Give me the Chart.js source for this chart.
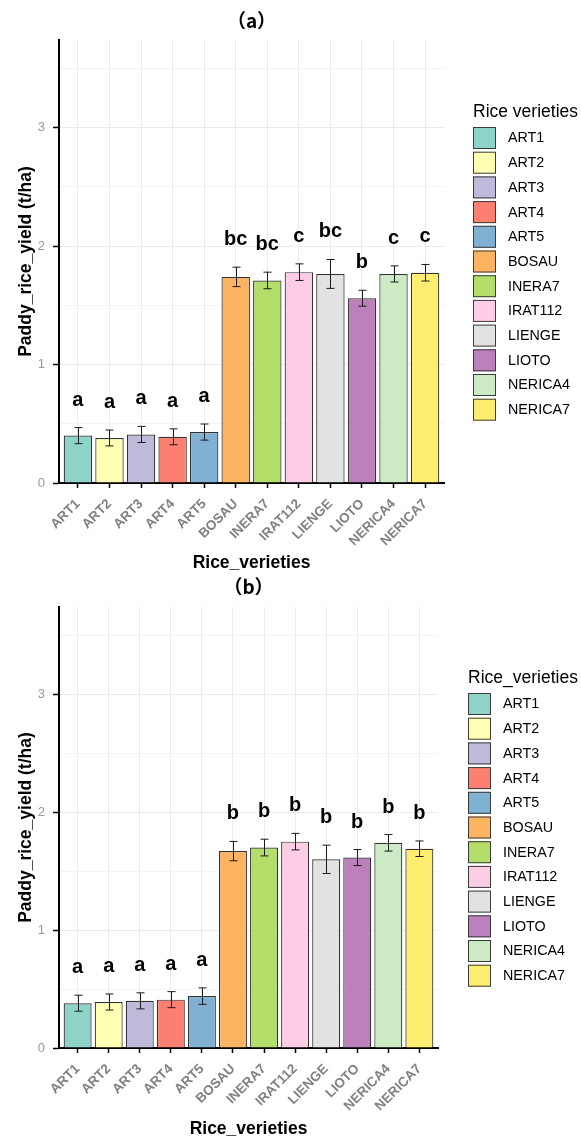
<!DOCTYPE html>
<html>
<head>
<meta charset="utf-8">
<script src="https://cdn.jsdelivr.net/npm/chart.js@4.4.1/dist/chart.umd.min.js"></script>
<style>
  html, body { margin: 0; padding: 0; background: #ffffff; }
  #wrap { position: relative; width: 581px; height: 1137px; }
  canvas { position: absolute; left: 0; }
</style>
</head>
<body>
<div id="wrap">
  <canvas id="cA" width="581" height="570" style="top:0px"></canvas>
  <canvas id="cB" width="581" height="567" style="top:570px"></canvas>
</div>
<script>
// ---------- data ----------
const categories = ["ART1","ART2","ART3","ART4","ART5","BOSAU","INERA7","IRAT112","LIENGE","LIOTO","NERICA4","NERICA7"];
const meanA = [0.40, 0.38, 0.41, 0.39, 0.43, 1.74, 1.71, 1.78, 1.765, 1.56, 1.765, 1.775];
const seA   = [0.068, 0.067, 0.068, 0.067, 0.068, 0.082, 0.070, 0.070, 0.122, 0.067, 0.068, 0.070];
const lettersA = ["a","a","a","a","a","bc","bc","c","bc","b","c","c"];
const meanB = [0.38, 0.39, 0.40, 0.41, 0.44, 1.67, 1.70, 1.75, 1.60, 1.615, 1.74, 1.69];
const seB   = [0.068, 0.068, 0.068, 0.068, 0.070, 0.082, 0.071, 0.070, 0.120, 0.068, 0.070, 0.066];
const lettersB = ["a","a","a","a","a","b","b","b","b","b","b","b"];
const yTicks = [0, 0.5, 1, 1.5, 2, 2.5, 3, 3.5];
const yMax = 3.74;
const palette = ["#8DD3C7","#FFFFB3","#BEBADA","#FB8072","#80B1D3","#FDB462","#B3DE69","#FCCDE5","#E2E2E2","#BC80BD","#CCEBC5","#FFED6F"];

const FONT = "'Liberation Sans', Arial, sans-serif";

function makeChart(canvasId, means, ses, letters, cfg) {
  const annot = {
    id: 'annot_' + canvasId,
    afterDatasetsDraw(chart) {
      const ctx = chart.ctx;
      const meta = chart.getDatasetMeta(0);
      const ys = chart.scales.y;
      ctx.save();
      // error bars
      ctx.strokeStyle = '#1a1a1a';
      ctx.lineWidth = 1;
      meta.data.forEach((bar, i) => {
        const x = Math.round(bar.x) + 0.5;
        const yT = ys.getPixelForValue(means[i] + ses[i]);
        const yB = ys.getPixelForValue(means[i] - ses[i]);
        ctx.beginPath();
        ctx.moveTo(x, yT); ctx.lineTo(x, yB);
        ctx.moveTo(x - 4, yT); ctx.lineTo(x + 4, yT);
        ctx.moveTo(x - 4, yB); ctx.lineTo(x + 4, yB);
        ctx.stroke();
      });
      // letters
      ctx.fillStyle = '#000000';
      ctx.font = "bold 20px " + FONT;
      ctx.textAlign = 'center';
      ctx.textBaseline = 'alphabetic';
      meta.data.forEach((bar, i) => {
        const yT = ys.getPixelForValue(means[i] + ses[i]);
        ctx.fillText(letters[i], bar.x, yT - 22);
      });
      ctx.restore();
    },
    afterDraw(chart) {
      const ctx = chart.ctx;
      const area = chart.chartArea;
      const cx = (area.left + area.right) / 2;
      ctx.save();
      // panel title
      ctx.fillStyle = '#000';
      ctx.font = "bold 19px 'Noto Sans CJK SC', " + FONT;
      ctx.textAlign = 'center';
      ctx.textBaseline = 'alphabetic';
      ctx.fillText(cfg.title, cx, cfg.titleY);
      // x axis title
      ctx.font = "bold 17.5px " + FONT;
      ctx.fillText("Rice_verieties", cx, cfg.xTitleY);
      // y axis title
      ctx.save();
      ctx.translate(cfg.yTitleX, (area.top + area.bottom) / 2);
      ctx.rotate(-Math.PI / 2);
      ctx.textBaseline = 'middle';
      ctx.fillText("Paddy_rice_yield (t/ha)", 0, 0);
      ctx.restore();
      // legend
      ctx.textAlign = 'left';
      ctx.textBaseline = 'alphabetic';
      ctx.font = "17.5px " + FONT;
      ctx.fillText(cfg.legendTitle, cfg.legX, cfg.legTitleY);
      ctx.font = "14.3px " + FONT;
      categories.forEach((c, i) => {
        const y = cfg.legY0 + i * cfg.legStep;
        ctx.fillStyle = palette[i];
        ctx.fillRect(cfg.legX, y, 23, 22);
        ctx.strokeStyle = '#3a3a3a';
        ctx.lineWidth = 1;
        ctx.strokeRect(cfg.legX + 0.5, y + 0.5, 22, 21);
        ctx.fillStyle = '#000';
        ctx.textBaseline = 'middle';
        ctx.fillText(c, cfg.legX + 35, y + 11.5);
      });
      ctx.restore();
    }
  };

  return new Chart(document.getElementById(canvasId), {
    type: 'bar',
    data: {
      datasets: [{
        data: means.map((v, i) => ({ x: i, y: v })),
        backgroundColor: palette,
        borderColor: '#333333',
        borderWidth: 1.2,
        barPercentage: 0.9,
        categoryPercentage: 1.0
      }]
    },
    options: {
      responsive: false,
      animation: false,
      devicePixelRatio: 1,
      layout: { padding: { left: 0, top: cfg.top, right: cfg.right, bottom: cfg.bottom } },
      plugins: { legend: { display: false }, tooltip: { enabled: false }, title: { display: false } },
      scales: {
        x: {
          type: 'linear',
          offset: false,
          min: -0.6,
          max: 11.6,
          afterBuildTicks(scale) { scale.ticks = categories.map((c, i) => ({ value: i })); },
          afterFit(scale) { scale.height = 80; },
          ticks: {
            autoSkip: false,
            minRotation: 45,
            maxRotation: 45,
            padding: 8,
            color: '#808080',
            font: { family: FONT, size: 13.5, weight: 'bold' },
            callback: (v) => categories[v] !== undefined ? categories[v] : ''
          },
          grid: {
            offset: false,
            color: '#ebebeb',
            lineWidth: 1,
            tickColor: '#000',
            tickLength: 5,
            tickWidth: 1.5
          },
          border: { display: true, color: '#000', width: 2 }
        },
        y: {
          type: 'linear',
          min: 0,
          max: yMax,
          afterBuildTicks(scale) { scale.ticks = yTicks.map(v => ({ value: v })); },
          afterFit(scale) { scale.width = 59; },
          ticks: {
            padding: 8,
            color: '#999999',
            font: { family: FONT, size: 13 },
            callback: (v) => Number.isInteger(v) ? String(v) : ''
          },
          grid: {
            color: (c) => Number.isInteger(c.tick.value) ? '#ebebeb' : '#f3f3f3',
            lineWidth: 1,
            tickColor: (c) => Number.isInteger(c.tick.value) ? '#000' : 'rgba(0,0,0,0)',
            tickLength: 6,
            tickWidth: 1.5
          },
          border: { display: true, color: '#000', width: 2 }
        }
      }
    },
    plugins: [annot]
  });
}

makeChart('cA', meanA, seA, lettersA, {
  top: 40, right: 581 - 444, bottom: 570 - 483 - 80,
  title: "（a）", titleY: 28, xTitleY: 568, yTitleX: 26,
  legendTitle: "Rice verieties", legX: 473, legTitleY: 117, legY0: 127, legStep: 24.7
});
makeChart('cB', meanB, seB, lettersB, {
  top: 37, right: 581 - 438, bottom: 567 - 478 - 80,
  title: "（b）", titleY: 24, xTitleY: 564, yTitleX: 26,
  legendTitle: "Rice_verieties", legX: 468, legTitleY: 113, legY0: 123, legStep: 24.7
});
</script>
</body>
</html>
